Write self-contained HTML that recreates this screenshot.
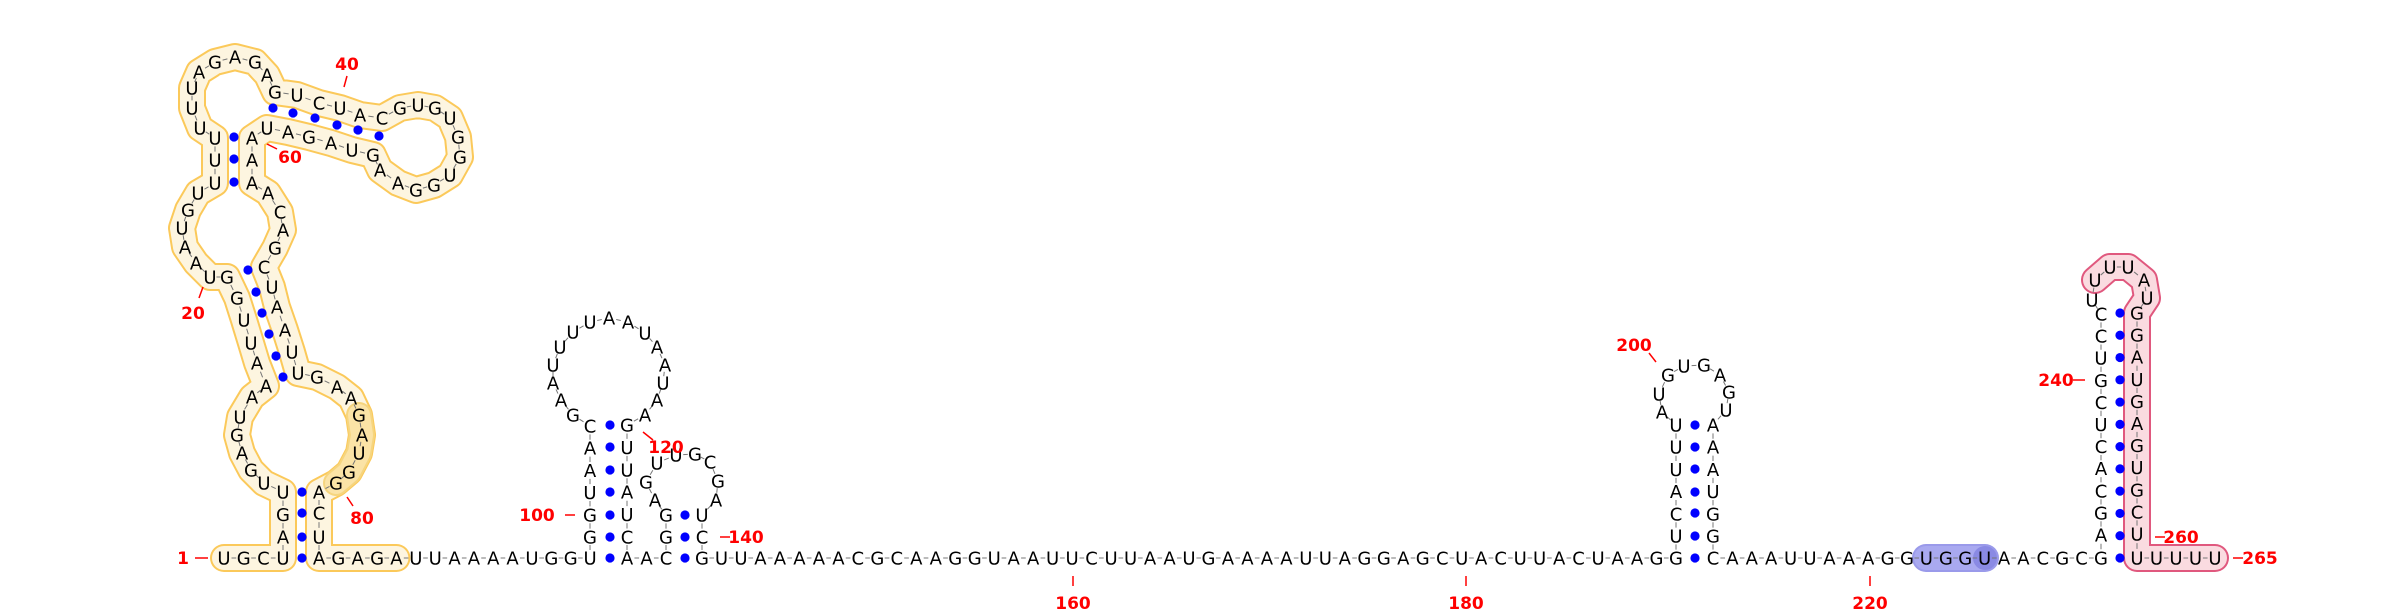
<!DOCTYPE html>
<html><head><meta charset="utf-8"><style>
html,body{margin:0;padding:0;background:#fff;}
svg{display:block;}
.nt{font-family:"DejaVu Sans","Liberation Sans",sans-serif;font-size:18px;fill:#000;}
.lbl{font-family:"DejaVu Sans","Liberation Sans",sans-serif;font-size:17px;font-weight:bold;fill:#f00;}
</style></head><body>
<svg id="rna" width="2400" height="613" viewBox="0 0 2400 613" xmlns="http://www.w3.org/2000/svg">
<g id="tubes"></g>
<g id="bb"></g>
<g id="pairs"></g>
<g id="nts"></g>
<g id="lbls"></g>
</svg>
<script>
var NS="http://www.w3.org/2000/svg";
function row(s,x0,dx,y){var r=[];for(var i=0;i<s.length;i++)r.push([s[i],x0+i*dx,y]);return r;}
function col(s,x,y0,dy){var r=[];for(var i=0;i<s.length;i++)r.push([s[i],x,y0+i*dy]);return r;}
function pts(s,a){var r=[];for(var i=0;i<a.length;i++)r.push([s[i],a[i][0],a[i][1]]);return r;}
var Y=558;
var chain=[];
function add(a){chain=chain.concat(a);}
add(row("UGC",224,19.7,Y));
add([["U",283,558]]);
add(col("AGU",283,537,-22.5));
var big=[].concat(
 pts("UGAGUAAAUUGG",[[264,483],[251,470],[242,453],[237,435],[240,417],[252,397],[266,386],[257,363],[251,343],[244,320],[237,298],[227,277]]),
 pts("UAAUGU",[[210,277],[196,263],[185,247],[182,228],[188,210],[198,193]]),
 pts("UUU",[[215,183],[215,160],[215,138]]),
 pts("UUUAGAGA",[[200,128],[192,108],[192,88],[199,72],[215,62],[235,57],[255,62],[267,75]]),
 pts("GUCUAC",[[275,92],[297,95],[319,103],[340,108],[360,115],[382,118]]),
 pts("GUGUGGUGGAA",[[400,108],[418,105],[435,108],[450,118],[458,137],[460,157],[450,175],[434,185],[416,190],[398,183],[380,170]]),
 pts("GUAGAU",[[373,155],[352,150],[331,143],[309,137],[288,132],[267,128]]),
 pts("AAA",[[252,138],[252,160],[252,183]]),
 pts("ACAG",[[268,193],[280,212],[283,230],[275,248]]),
 pts("CUAAUU",[[264,267],[272,287],[277,307],[285,330],[292,352],[298,373]]),
 pts("GAAGAUGG",[[317,377],[337,387],[351,398],[359,415],[362,435],[359,453],[349,472],[336,483]]),
 pts("ACU",[[319,492],[319,513],[319,537]])
);
add(big);
add(row("AGAGAUUAAAAUGGU",319,19.36,Y));
add(col("GGUAAC",590,537,-22.2));
add(pts("GAAUUUUAAUAAUAA",[[573,415],[561,400],[553,383],[553,365],[560,347],[573,332],[590,322],[609,318],[628,322],[645,333],[657,347],[665,365],[663,383],[657,400],[645,415]]));
add(col("GUUAUC",627,425,22.4));
add(row("AAC",627,19.5,Y));
add(col("GG",666,537,-22));
add(pts("AGUUGCGA",[[655,500],[646,482],[657,463],[676,455],[695,454],[710,462],[718,481],[716,500]]));
add(col("UC",702,515,22));
add(row("GUUAAAAACGCAAGGUAAUUCUUAAUGAAAAUUAGGAGCUACUUACUAAGG",702,19.48,Y));
add(col("UCAUUU",1676,536,-22.2));
add(pts("AUGUGAGU",[[1662,412],[1659,394],[1668,375],[1684,366],[1704,365],[1720,375],[1729,392],[1726,410]]));
add(col("AAAUGG",1713,425,22.2));
add(row("CAAAUUAAAGGUGGUAACGCG",1713,19.4,Y));
add(col("AGCACUCGUCC",2101,535,-22.1));
add(pts("UUUUAU",[[2092,300],[2095,280],[2110,267],[2128,267],[2144,280],[2147,298]]));
add(col("GGAUGAGUGCU",2137,313,22.1));
add(row("UUUUU",2137,19.5,Y));

var pairDots=[];
[[302,[492,513,537,558]],[610,[425,447,470,492,515,537,558]],[685,[515,537,558]],[1695,[425,447,469,492,513,536,558]]].forEach(function(p){p[1].forEach(function(y){pairDots.push([p[0],y]);});});
for(var i=0;i<12;i++)pairDots.push([2120,313+i*22.27]);
pairDots=pairDots.concat([[248,270],[256,292],[262,313],[269,334],[276,356],[283,377],[234,137],[234,159],[234,182],[273,108],[293,113],[315,118],[337,125],[358,130],[379,136]]);

var labels=[["1",183,558],["20",193,313],["40",347,64],["60",290,157],["80",362,518],["100",537,515],["120",666,447],["140",746,537],["160",1073,603],["180",1466,603],["200",1634,345],["220",1870,603],["240",2056,380],["260",2181,537],["265",2260,558]];
var ticks=[[195,558,208,558],[203,287,199,298],[347,76,344,87],[267,144,277,149],[347,497,353,506],[565,515,575,515],[643,432,653,440],[720,537,730,537],[1073,576,1073,586],[1466,576,1466,586],[1649,353,1656,362],[1870,576,1870,586],[2073,380,2085,380],[2155,537,2165,537],[2233,558,2243,558]];

function el(t,a,p){var e=document.createElementNS(NS,t);for(var k in a)e.setAttribute(k,a[k]);p.appendChild(e);return e;}
function path(a){return "M"+a.map(function(p){return p[1]+","+p[2];}).join(" L");}
var tubes=document.getElementById("tubes");
function tube(seg,outer,inner,name,w){
 var d=path(seg);
 var o=el("path",{d:d,fill:"none",stroke:outer,"stroke-width":w+4,"stroke-linejoin":"round","stroke-linecap":"round"},tubes);
 
 
 var n=el("path",{d:d,fill:"none",stroke:inner,"stroke-width":w,"stroke-linejoin":"round","stroke-linecap":"round"},tubes);
 
 
}
var yEnd=7+big.length+5;
tube(chain.slice(0,yEnd),"#fbc95a","#fdf5e0","yellow-domain",24);
var gi=7+68;
tube(chain.slice(gi,gi+5),"#f6d57e","#fbe3a6","dark-yellow-segment",22);
var bl=[["U",1926,558],["G",1946,558],["G",1965,558],["U",1985,558]];
tube(bl,"#9a9aea","#a9a9f0","blue-segment",24);
var bc=el("circle",{cx:1985,cy:558,r:12,fill:"#8a8ae4"},tubes);


var pStart=chain.length-5-11-5;
tube(chain.slice(pStart),"#e0587e","#fadbe0","pink-terminator",24);

var bb=document.getElementById("bb");
for(var i=1;i<chain.length;i++){
 var a=chain[i-1],b=chain[i];var dx=b[1]-a[1],dy=b[2]-a[2];var L=Math.sqrt(dx*dx+dy*dy);
 if(L>32)continue;
 var ln=el("line",{x1:a[1]+dx*0.38,y1:a[2]+dy*0.38,x2:a[1]+dx*0.62,y2:a[2]+dy*0.62,stroke:"#777","stroke-width":1},bb);
 
 
}
var pg=document.getElementById("pairs");
pairDots.forEach(function(p){
 var c=el("circle",{cx:p[0],cy:p[1],r:4.6,fill:"#0000ff"},pg);
 
 
});
var ng=document.getElementById("nts");
chain.forEach(function(n){
 var t=el("text",{x:n[1],y:n[2]+6.5,"text-anchor":"middle","class":"nt"},ng);
 t.textContent=n[0];
 
 
});
var lg=document.getElementById("lbls");
ticks.forEach(function(k){
 var l=el("line",{x1:k[0],y1:k[1],x2:k[2],y2:k[3],stroke:"#f00","stroke-width":1.5},lg);
 
 
});
labels.forEach(function(k){
 var t=el("text",{x:k[1],y:k[2]+6,"text-anchor":"middle","class":"lbl"},lg);
 t.textContent=k[0];
 
 
});
</script>
</body></html>
